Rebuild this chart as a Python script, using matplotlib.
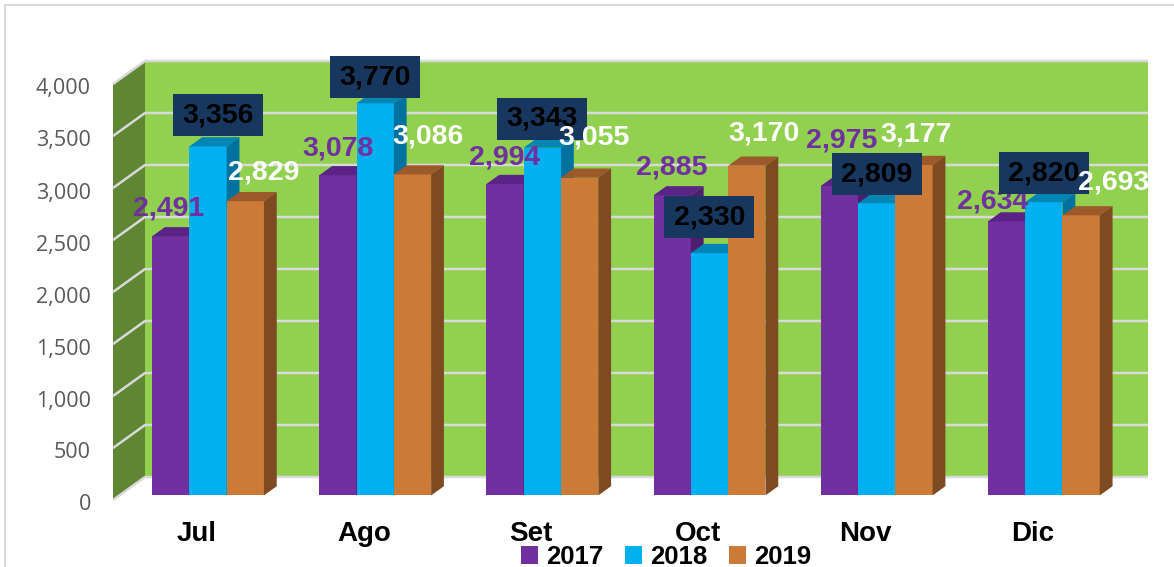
import matplotlib
matplotlib.use("Agg")
import matplotlib.pyplot as plt
import matplotlib.transforms as mtransforms
import numpy as np
from matplotlib.patches import Patch, Polygon, Rectangle

# datos (Jul-Dic, tres anos)
months = ["Jul", "Ago", "Set", "Oct", "Nov", "Dic"]
years = ["2017", "2018", "2019"]
v2017 = [2491, 3078, 2994, 2885, 2975, 2634]
v2018 = [3356, 3770, 3343, 2330, 2809, 2820]
v2019 = [2829, 3086, 3055, 3170, 3177, 2693]
yticks = list(range(0, 4001, 500))

# colores estilo Excel: frente / tapa / lateral
colors = [
    {"front": "#7030A0", "top": "#5B2386", "side": "#4D1D70"},
    {"front": "#00B0F0", "top": "#0085B5", "side": "#0072A0"},
    {"front": "#CC7A37", "top": "#9C5A2A", "side": "#7E4A22"},
]
label_color = ["#7030A0", "black", "white"]
# ajustes a mano de las etiquetas (pixeles: dx, dy hacia arriba)
nudges = [
    [(-2, 28), (0, 27), (0, 27), (0, 28), (2, 46), (-14, 20)],
    [(10, 31), (0, 26), (0, 29), (0, 36), (0, 29), (0, 29)],
    [(18, 29), (16, 38), (14, 40), (17, 32), (2, 30), (32, 33)],
]

plt.rcParams["font.family"] = ["Liberation Sans", "DejaVu Sans"]

W, H = 1174, 567
fig = plt.figure(figsize=(W / 100, H / 100), dpi=100)
fig.patch.set_facecolor("white")

# plano frontal: x=113..1116 px, y=500..84 px
ax = fig.add_axes([113 / W, 67 / H, 1003 / W, 416 / H])
x0, x1 = -0.53, 5.47
ax.set_xlim(x0, x1)
ax.set_ylim(0, 4000)
ax.patch.set_visible(False)
for sp in ax.spines.values():
    sp.set_visible(False)

# profundidad oblicua (32 px a la derecha, 23 px hacia arriba)
DX = 32 / (1003 / (x1 - x0))
DY = 23 / (416 / 4000)
Z0, Z1 = 0.2, 0.6
BW = 37.3 / (1003 / (x1 - x0))

# paredes
ax.add_patch(Rectangle((x0 + DX, DY), x1 - x0, 4000, fc="#92D050", lw=0,
                       zorder=0, clip_on=False))
ax.add_patch(Polygon([(x0, 0), (x0 + DX, DY), (x0 + DX, 4000 + DY), (x0, 4000)],
                     closed=True, fc="#5F8733", lw=0, zorder=0, clip_on=False))
for v in yticks:
    ax.plot([x0, x0 + DX, x1 + DX], [v, v + DY, v + DY], color="#D9D9D9",
            lw=1.8, zorder=1, clip_on=False, solid_capstyle="butt")

xs = np.arange(len(months))
series = [v2017, v2018, v2019]
b0 = Z0 * DY
ddx, ddy = (Z1 - Z0) * DX, (Z1 - Z0) * DY
centers = []
for s, vals in enumerate(series):
    zo = 3 + s
    xc = xs + (s - 1) * BW + Z0 * DX
    centers.append(xc)
    ax.bar(xc, vals, BW, bottom=b0, color=colors[s]["front"], lw=0,
           zorder=zo, clip_on=False)
    for x, v in zip(xc, vals):
        xl, xr, top = x - BW / 2, x + BW / 2, b0 + v
        ax.add_patch(Polygon([(xl, top), (xr, top), (xr + ddx, top + ddy),
                              (xl + ddx, top + ddy)], closed=True,
                             fc=colors[s]["top"], lw=0, zorder=zo, clip_on=False))
        ax.add_patch(Polygon([(xr, b0), (xr, top), (xr + ddx, top + ddy),
                              (xr + ddx, b0 + ddy)], closed=True,
                             fc=colors[s]["side"], lw=0, zorder=zo, clip_on=False))

# etiquetas de datos
for s, vals in enumerate(series):
    for i, v in enumerate(vals):
        dx, dy = nudges[s][i]
        x, y = centers[s][i], b0 + v
        if s == 1:
            tr = fig.dpi_scale_trans + mtransforms.ScaledTranslation(x, y, ax.transData)
            ax.add_patch(Rectangle(((dx - 45) / 100, (dy - 21) / 100), 0.9, 0.42,
                                   transform=tr, fc="#17375E", lw=0,
                                   zorder=10 + s, clip_on=False))
        ax.annotate(f"{v:,}", xy=(x, y), xytext=(dx, dy), textcoords="offset pixels",
                    ha="center", va="center", fontsize=20.5, fontweight="bold",
                    color=label_color[s], zorder=10 + s, annotation_clip=False)

ax.set_yticks(yticks, [f"{t:,}" for t in yticks])
ax.tick_params(axis="y", length=0, pad=16, labelsize=15.5, labelcolor="#595959")
for lbl in ax.get_yticklabels():
    lbl.set_family(["Open Sans", "DejaVu Sans"])
    lbl.set_transform(lbl.get_transform() +
                      mtransforms.ScaledTranslation(0, -0.025, fig.dpi_scale_trans))
ax.set_xticks(xs, months)
ax.tick_params(axis="x", length=0, pad=15, labelsize=20)
for lbl in ax.get_xticklabels():
    lbl.set_fontweight("bold")
    lbl.set_transform(lbl.get_transform() +
                      mtransforms.ScaledTranslation(-0.05, 0, fig.dpi_scale_trans))

handles = [Patch(fc=c["front"]) for c in colors]
fig.legend(handles, years, loc="center", bbox_to_anchor=(666 / W, 10 / H), ncol=3,
           frameon=False, prop={"weight": "bold", "size": 18.5},
           handlelength=0.65, handleheight=0.65, handletextpad=0.3,
           columnspacing=0.87, borderpad=0, borderaxespad=0)

# marco gris del area del grafico
fig.patches.append(Rectangle((5 / W, -0.05), 1.2, (H - 5) / H + 0.05,
                             transform=fig.transFigure, fill=False,
                             ec="#D9D9D9", lw=1.5))

fig.savefig("out.png", dpi=100)
